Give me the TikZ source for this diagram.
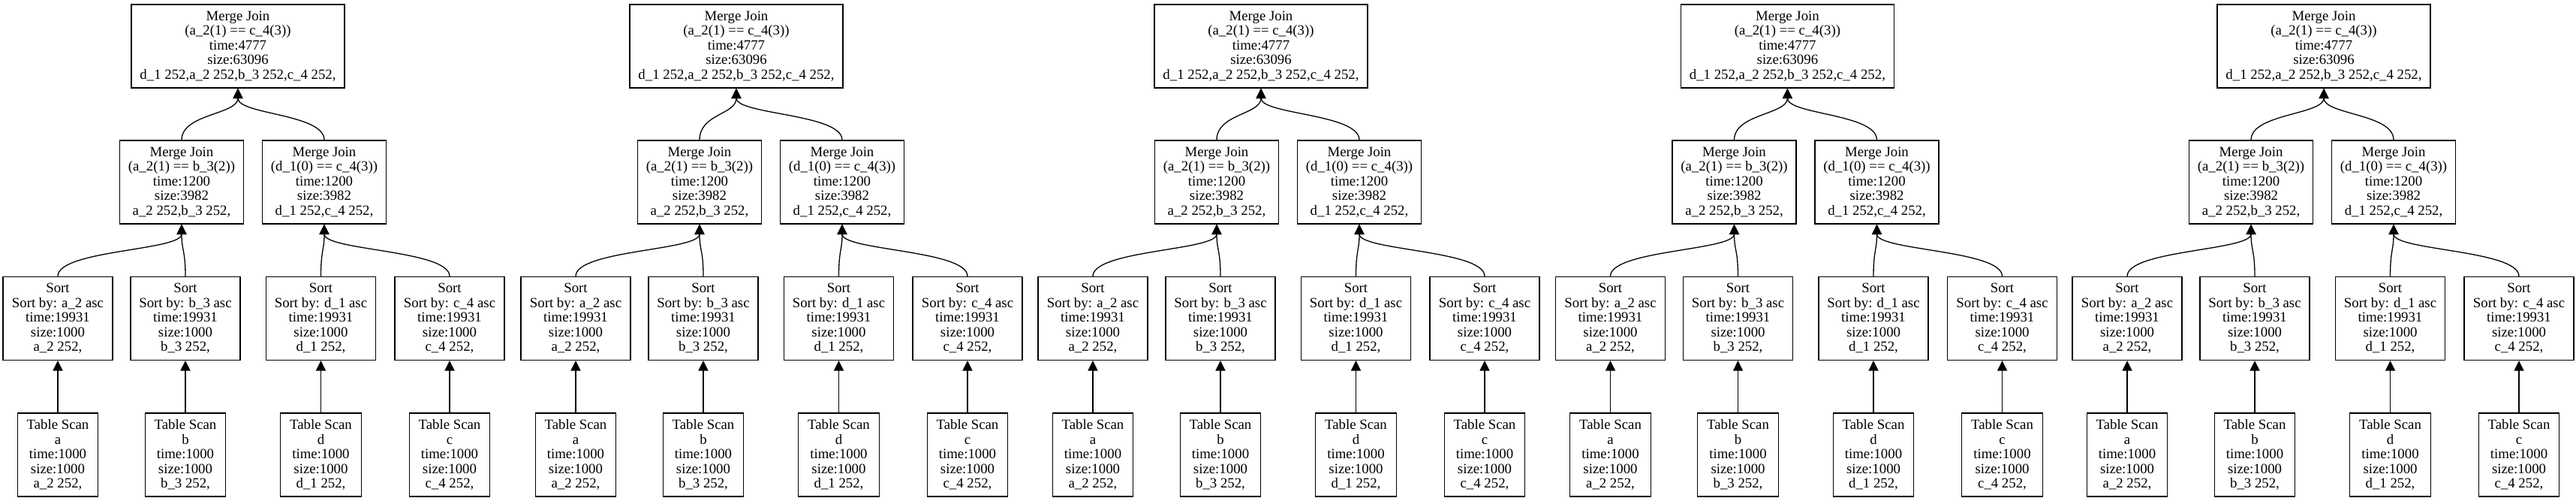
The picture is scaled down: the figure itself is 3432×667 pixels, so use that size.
\documentclass[tikz,border=0pt]{standalone}
\usepackage{fontspec}
\setmainfont{Liberation Serif}
\usetikzlibrary{arrows.meta}
\tikzset{
  opbox/.style={draw, line width=0.65pt, rectangle, inner sep=0pt, align=center,
    minimum height=55.5pt, font=\fontsize{9.4pt}{9.75pt}\selectfont},
  topbox/.style={opbox, minimum width=142pt},
  mjbox/.style={opbox, minimum width=82.5pt},
  sortbox/.style={opbox, minimum width=73pt},
  scanbox/.style={opbox, minimum width=53.75pt},
  edge/.style={line width=0.65pt, -{Triangle[length=6.7pt,width=6.5pt]}},
}
\newcommand{\plantree}[3]{%
  \node[topbox] (#1top) at (#3,61.5) {Merge Join\\(a\_2(1) == c\_4(3))\\time:4777\\size:63096\\d\_1 252,a\_2 252,b\_3 252,c\_4 252,};
  \node[mjbox] (#1mjl) at (#2+165,242.5) {Merge Join\\(a\_2(1) == b\_3(2))\\time:1200\\size:3982\\a\_2 252,b\_3 252,};
  \node[mjbox] (#1mjr) at (#2+355,242.5) {Merge Join\\(d\_1(0) == c\_4(3))\\time:1200\\size:3982\\d\_1 252,c\_4 252,};
  \node[sortbox] (#1sa) at (#2,424) {Sort\\Sort by: a\_2 asc\\time:19931\\size:1000\\a\_2 252,};
  \node[sortbox] (#1sb) at (#2+170,424) {Sort\\Sort by: b\_3 asc\\time:19931\\size:1000\\b\_3 252,};
  \node[sortbox] (#1sd) at (#2+350.5,424) {Sort\\Sort by: d\_1 asc\\time:19931\\size:1000\\d\_1 252,};
  \node[sortbox] (#1sc) at (#2+522,424) {Sort\\Sort by: c\_4 asc\\time:19931\\size:1000\\c\_4 252,};
  \node[scanbox] (#1ta) at (#2,605.5) {Table Scan\\a\\time:1000\\size:1000\\a\_2 252,};
  \node[scanbox] (#1tb) at (#2+170,605.5) {Table Scan\\b\\time:1000\\size:1000\\b\_3 252,};
  \node[scanbox] (#1td) at (#2+350.5,605.5) {Table Scan\\d\\time:1000\\size:1000\\d\_1 252,};
  \node[scanbox] (#1tc) at (#2+522,605.5) {Table Scan\\c\\time:1000\\size:1000\\c\_4 252,};
  \draw[edge] (#1ta.north) -- (#1sa.south);
  \draw[edge] (#1tb.north) -- (#1sb.south);
  \draw[edge] (#1td.north) -- (#1sd.south);
  \draw[edge] (#1tc.north) -- (#1sc.south);
  \draw[edge] (#1sa.north) .. controls +(0,-35) and +(0,35) .. (#1mjl.south);
  \draw[edge] (#1sb.north) .. controls +(0,-35) and +(0,35) .. (#1mjl.south);
  \draw[edge] (#1sd.north) .. controls +(0,-35) and +(0,35) .. (#1mjr.south);
  \draw[edge] (#1sc.north) .. controls +(0,-35) and +(0,35) .. (#1mjr.south);
  \draw[edge] (#1mjl.north) .. controls +(0,-35) and +(0,35) .. (#1top.south);
  \draw[edge] (#1mjr.north) .. controls +(0,-35) and +(0,35) .. (#1top.south);
}
\begin{document}
\begin{tikzpicture}[x=0.5pt,y={(0pt,-0.5pt)}]
\useasboundingbox (0,0) rectangle (3432,667);
\plantree{A}{77}{317}
\plantree{B}{767}{981}
\plantree{C}{1456}{1680}
\plantree{D}{2145.5}{2381.4}
\plantree{E}{2834}{3096}
\end{tikzpicture}
\end{document}
